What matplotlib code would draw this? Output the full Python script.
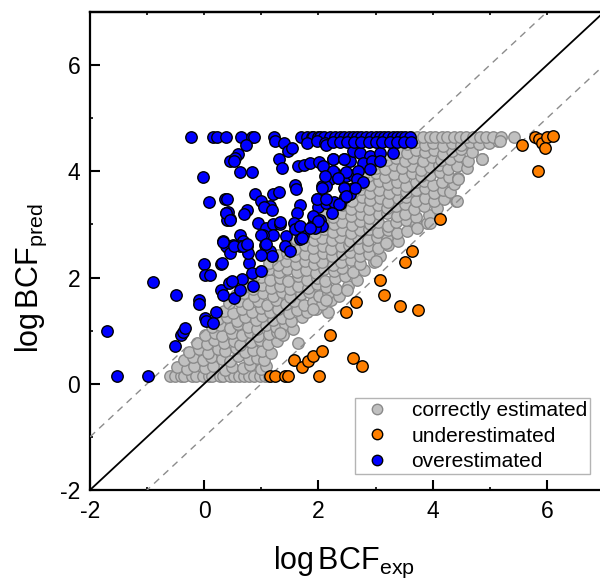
import matplotlib

matplotlib.use("Agg")
import matplotlib.pyplot as plt
import numpy as np
from matplotlib import font_manager
from matplotlib.lines import Line2D
from matplotlib.ticker import MultipleLocator

# ---- data (log units) ----
# correctly estimated: dense cloud, written row by row
gray_x = [
    [-0.60, -0.52, -0.41, -0.35, -0.22, -0.14, -0.03, 0.08, 0.14, 0.27, 0.33, 0.45, 0.52, 0.61,
     0.70, 0.79, 0.88, 0.97, 1.06, 1.14],
    [-0.47, -0.31, -0.18, 0.02, 0.15, 0.36, 0.49, 0.68, 0.80, 0.99, 1.08],
    [-0.36, -0.20, -0.02, 0.11, 0.31, 0.45, 0.60, 0.78, 0.92, 1.05],
    [-0.26, -0.10, 0.07, 0.24, 0.37, 0.55, 0.72, 0.86, 1.01, 1.17],
    [-0.13, 0.04, 0.17, 0.35, 0.52, 0.63, 0.82, 0.97, 1.12, 1.27],
    [0.01, 0.19, 0.31, 0.48, 0.66, 0.80, 0.95, 1.14, 1.28, 1.38],
    [0.13, 0.28, 0.45, 0.59, 0.77, 0.93, 1.08, 1.26, 1.41, 1.55],
    [0.24, 0.40, 0.57, 0.72, 0.90, 1.02, 1.20, 1.37, 1.52, 1.71],
    [0.35, 0.50, 0.67, 0.84, 0.99, 1.16, 1.30, 1.49, 1.63, 1.80, 1.95, 2.16],
    [0.44, 0.61, 0.76, 0.94, 1.10, 1.25, 1.43, 1.58, 1.74, 1.90, 2.06, 2.22],
    [0.56, 0.70, 0.87, 1.03, 1.20, 1.36, 1.51, 1.69, 1.83, 2.01, 2.17, 2.36],
    [0.70, 0.85, 1.01, 1.17, 1.33, 1.50, 1.64, 1.82, 1.97, 2.14, 2.31, 2.52],
    [0.86, 1.00, 1.16, 1.33, 1.47, 1.65, 1.80, 1.97, 2.12, 2.29, 2.46, 2.67],
    [1.00, 1.14, 1.31, 1.45, 1.63, 1.78, 1.95, 2.09, 2.27, 2.42, 2.60, 2.80],
    [1.14, 1.29, 1.44, 1.61, 1.76, 1.93, 2.07, 2.25, 2.40, 2.57, 2.73, 2.97],
    [1.29, 1.45, 1.59, 1.77, 1.92, 2.08, 2.23, 2.41, 2.55, 2.73, 2.89, 3.07],
    [1.45, 1.59, 1.76, 1.90, 2.08, 2.22, 2.40, 2.54, 2.71, 2.86, 3.04, 3.22],
    [1.61, 1.76, 1.92, 2.07, 2.24, 2.38, 2.56, 2.70, 2.87, 3.02, 3.20, 3.39],
    [1.80, 1.94, 2.10, 2.25, 2.42, 2.57, 2.73, 2.89, 3.05, 3.21, 3.38, 3.55],
    [1.96, 2.10, 2.27, 2.41, 2.58, 2.73, 2.90, 3.04, 3.22, 3.36, 3.54, 3.71, 3.90],
    [2.11, 2.26, 2.42, 2.57, 2.74, 2.88, 3.06, 3.20, 3.37, 3.52, 3.70, 3.94],
    [2.26, 2.41, 2.57, 2.72, 2.89, 3.04, 3.20, 3.36, 3.52, 3.68, 3.85, 4.07],
    [2.45, 2.59, 2.76, 2.90, 3.07, 3.22, 3.39, 3.53, 3.71, 3.86, 4.03, 4.20, 4.41],
    [2.60, 2.75, 2.91, 3.06, 3.23, 3.38, 3.54, 3.70, 3.86, 4.02, 4.18, 4.31],
    [2.75, 2.90, 3.06, 3.21, 3.38, 3.53, 3.70, 3.84, 4.01, 4.16, 4.37],
    [2.86, 3.01, 3.17, 3.32, 3.49, 3.64, 3.80, 3.96, 4.12, 4.28, 4.45],
    [3.01, 3.16, 3.32, 3.47, 3.64, 3.79, 3.95, 4.11, 4.27, 4.43, 4.60],
    [3.20, 3.35, 3.51, 3.66, 3.83, 3.98, 4.14, 4.30, 4.46, 4.62, 4.86],
    [3.40, 3.55, 3.71, 3.86, 4.03, 4.18, 4.34, 4.50, 4.69],
    [3.55, 3.70, 3.86, 4.01, 4.18, 4.33, 4.49, 4.65, 4.81, 4.99, 5.15],
    [3.62, 3.72, 3.83, 3.95, 4.04, 4.16, 4.25, 4.37, 4.47, 4.58, 4.70, 4.82, 4.93, 5.06, 5.19,
     5.42],
    [1.90, 2.14, 2.50, 3.00, 3.19, 3.95, 3.72, 4.42, 4.45, 4.86, 5.17, 1.65, 1.33],
]
gray_y = [
    [0.15] * 20,
    [0.31, 0.27, 0.34, 0.29, 0.33, 0.26, 0.32, 0.30, 0.35, 0.28, 0.33],
    [0.45, 0.50, 0.44, 0.51, 0.47, 0.42, 0.52, 0.46, 0.49, 0.44],
    [0.60, 0.65, 0.58, 0.66, 0.61, 0.67, 0.59, 0.64, 0.62, 0.58],
    [0.77, 0.74, 0.82, 0.76, 0.80, 0.73, 0.79, 0.83, 0.75, 0.80],
    [0.92, 0.96, 0.89, 0.95, 0.91, 0.97, 0.90, 0.94, 0.98, 0.91],
    [1.06, 1.11, 1.05, 1.12, 1.07, 1.03, 1.10, 1.06, 1.12, 1.04],
    [1.22, 1.26, 1.19, 1.25, 1.21, 1.27, 1.20, 1.24, 1.19, 1.26],
    [1.37, 1.34, 1.41, 1.36, 1.42, 1.35, 1.40, 1.33, 1.39, 1.35, 1.41, 1.36],
    [1.52, 1.56, 1.50, 1.55, 1.49, 1.57, 1.51, 1.55, 1.48, 1.54, 1.50, 1.57],
    [1.67, 1.71, 1.65, 1.70, 1.66, 1.72, 1.64, 1.69, 1.73, 1.66, 1.70, 1.65],
    [1.82, 1.79, 1.86, 1.81, 1.85, 1.78, 1.84, 1.80, 1.87, 1.82, 1.78, 1.84],
    [1.97, 2.01, 1.95, 2.00, 1.94, 2.02, 1.96, 2.00, 1.93, 1.99, 2.03, 1.96],
    [2.12, 2.16, 2.10, 2.17, 2.11, 2.15, 2.09, 2.16, 2.12, 2.18, 2.10, 2.14],
    [2.27, 2.24, 2.31, 2.26, 2.32, 2.25, 2.30, 2.23, 2.29, 2.33, 2.26, 2.30],
    [2.42, 2.46, 2.40, 2.45, 2.39, 2.47, 2.41, 2.44, 2.48, 2.40, 2.45, 2.41],
    [2.57, 2.54, 2.61, 2.56, 2.60, 2.53, 2.59, 2.62, 2.55, 2.60, 2.56, 2.61],
    [2.72, 2.76, 2.70, 2.75, 2.71, 2.77, 2.69, 2.74, 2.70, 2.76, 2.72, 2.69],
    [2.87, 2.84, 2.91, 2.86, 2.90, 2.83, 2.89, 2.92, 2.85, 2.90, 2.84, 2.88],
    [3.02, 3.06, 3.00, 3.05, 2.99, 3.07, 3.01, 3.05, 2.98, 3.04, 3.08, 3.00, 3.03],
    [3.17, 3.14, 3.21, 3.16, 3.20, 3.13, 3.19, 3.22, 3.15, 3.20, 3.14, 3.18],
    [3.32, 3.36, 3.30, 3.35, 3.29, 3.37, 3.31, 3.34, 3.38, 3.30, 3.35, 3.31],
    [3.47, 3.44, 3.51, 3.46, 3.50, 3.43, 3.49, 3.52, 3.45, 3.50, 3.44, 3.48, 3.45],
    [3.62, 3.66, 3.60, 3.65, 3.59, 3.67, 3.61, 3.64, 3.68, 3.60, 3.65, 3.61],
    [3.77, 3.74, 3.81, 3.76, 3.80, 3.73, 3.79, 3.82, 3.75, 3.80, 3.76],
    [3.92, 3.96, 3.90, 3.95, 3.89, 3.97, 3.91, 3.94, 3.98, 3.90, 3.88],
    [4.07, 4.04, 4.11, 4.06, 4.10, 4.03, 4.09, 4.12, 4.05, 4.10, 4.06],
    [4.22, 4.26, 4.20, 4.25, 4.19, 4.27, 4.21, 4.24, 4.28, 4.20, 4.23],
    [4.37, 4.34, 4.41, 4.36, 4.40, 4.33, 4.39, 4.42, 4.36],
    [4.51, 4.55, 4.49, 4.54, 4.48, 4.53, 4.50, 4.55, 4.51, 4.54, 4.57],
    [4.65] * 16,
    [1.40, 1.58, 1.77, 2.31, 2.65, 3.03, 2.94, 3.44, 3.85, 4.23, 4.57, 0.77, 0.96],
]

# underestimated
orange_x = [1.16, 1.24, 1.41, 1.47, 1.57, 1.72, 1.81, 1.90, 2.07, 2.01, 2.20, 2.48, 2.66, 2.61, 2.77,
            3.08, 3.14, 3.42, 3.75, 3.51, 3.63, 4.13, 5.57, 5.84, 5.79, 5.87, 5.92, 6.00, 6.10, 5.97]
orange_y = [0.14, 0.14, 0.14, 0.14, 0.44, 0.31, 0.42, 0.52, 0.61, 0.15, 0.92, 1.35, 1.54, 0.48, 0.33,
            1.96, 1.67, 1.47, 1.38, 2.29, 2.50, 3.11, 4.50, 4.00, 4.64, 4.60, 4.54, 4.64, 4.67, 4.43]

# overestimated
blue_top_x = [-0.23, 0.15, 0.23, 0.38, 0.64, 0.83, 0.87, 1.22, 1.69, 1.80, 1.88, 1.90, 2.00, 2.03,
              2.10, 2.20, 2.29, 2.38, 2.45, 2.53, 2.60, 2.67, 2.75, 2.83, 2.92, 3.00, 3.08, 3.15,
              3.22, 3.30, 3.38, 3.45, 3.52, 3.60]
blue_top_y = 4.65
blue_x = [
    -0.03, 0.09, 0.36, 0.38, 0.40, 0.32, 0.42, 0.45,
    -0.89, -0.49, -1.71, -1.52, -0.99, -0.51, -0.41, -0.38, -0.34, -0.10, -0.09, 0.01, 0.03,
    0.20, 0.16, 0.00, 0.01, 0.10, 0.30, 0.30, 0.33, 0.44,
    0.73, 1.24, 1.40, 1.80, 1.97, 2.12, 2.14, 1.47, 1.53, 0.60, 0.54, 0.52, 1.31, 1.37, 1.65,
    1.74, 1.85, 2.01, 2.25, 2.44, 2.55, 0.63, 0.83, 2.13, 2.29, 2.20, 2.35, 2.48, 2.60, 1.59,
    1.61, 2.06, 2.14, 2.46, 2.52, 2.60, 0.89, 1.20, 1.31, 1.00, 0.39, 1.15, 1.04, 1.18, 0.75,
    0.70, 0.41, 0.45, 1.68, 1.63, 1.97, 2.00, 2.13, 2.27, 2.38, 2.46, 2.55,
    0.95, 1.09, 1.21, 1.33, 1.44, 1.21, 1.03, 0.63, 0.68, 0.51, 0.75, 0.38, 1.06, 1.15, 1.41,
    1.50, 1.68, 1.73, 1.88, 1.92, 2.02, 2.06, 1.94, 1.57, 1.59,
    0.31, 0.78, 0.84, 0.67, 0.48, 0.52, 0.63, 0.86, 1.00, 1.19, 1.00, 0.63, 0.77, 0.45, 0.32,
    0.52, 0.68, 0.38, 0.46, 0.75, 1.00, 1.08, 1.33,
    2.61, 2.73, 2.90, 3.08, 3.31, 2.26, 2.44, 2.78, 2.93, 3.08, 2.08, 2.26, 2.49, 2.69, 2.90,
    2.11, 2.35, 2.67, 2.78, 2.64, 2.44, 2.06, 1.97, 2.14, 2.36, 2.49, 2.23, 1.91, 2.00, 1.68,
    1.85, 1.71,
    2.25, 2.38, 2.50, 2.62, 2.75, 2.88, 3.00, 3.12, 3.25, 3.38, 3.50, 3.62,
]
blue_y = [
    3.89, 3.42, 3.47, 3.21, 3.09, 2.68, 2.56, 4.19,
    1.91, 1.68, 0.99, 0.14, 0.15, 0.72, 0.91, 0.97, 1.05, 1.58, 1.51, 1.24, 1.18,
    1.36, 1.14, 2.26, 2.04, 2.04, 2.26, 1.77, 1.68, 1.90,
    4.49, 4.57, 4.53, 4.53, 4.57, 4.54, 4.49, 4.38, 4.43, 4.32, 4.26, 4.19, 4.23, 4.07, 4.10,
    4.11, 4.15, 4.18, 4.24, 4.24, 4.19, 3.99, 3.99, 3.94, 3.97, 3.85, 3.88, 3.91, 3.94, 3.75,
    3.66, 3.72, 3.72, 3.69, 3.63, 3.69, 3.57, 3.58, 3.61, 3.44, 3.47, 3.35, 3.33, 3.27, 3.27,
    3.19, 3.23, 3.11, 3.36, 3.22, 3.47, 3.33, 3.40, 3.42, 3.38, 3.52, 3.58,
    3.03, 2.94, 3.00, 3.00, 2.78, 2.81, 2.81, 2.81, 2.68, 2.62, 2.60, 2.59, 2.62, 2.50, 2.60,
    2.50, 2.72, 2.81, 2.97, 3.09, 3.09, 2.97, 2.94, 3.02, 2.91,
    2.28, 2.28, 2.08, 1.98, 1.93, 1.62, 1.77, 1.84, 2.12, 2.40, 2.42, 2.59, 2.47, 2.47, 2.67,
    2.59, 2.60, 3.22, 3.09, 2.64, 2.81, 2.64, 3.04,
    4.38, 4.35, 4.29, 4.35, 4.35, 4.23, 4.23, 4.16, 4.19, 4.19, 4.10, 4.00, 3.98, 4.00, 4.04,
    3.91, 3.88, 3.85, 3.79, 3.69, 3.69, 3.69, 3.47, 3.47, 3.38, 3.53, 3.22, 3.16, 3.06, 2.97,
    2.94, 2.75,
    4.55, 4.55, 4.55, 4.55, 4.55, 4.55, 4.55, 4.55, 4.55, 4.55, 4.55, 4.55,
]

legend_labels = ["correctly estimated", "underestimated", "overestimated"]
ticks = [-2, 0, 2, 4, 6]


def has_font(name):
    try:
        font_manager.findfont(name, fallback_to_default=False)
        return True
    except ValueError:
        return False


narrow = has_font("Liberation Sans Narrow")
label_font = "Liberation Sans Narrow" if narrow else "Liberation Sans"
label_size = 25 if narrow else 22
legend_size = 18 if narrow else 15

plt.rcParams["font.family"] = ["Liberation Sans", "DejaVu Sans"]
plt.rcParams["axes.unicode_minus"] = False
plt.rcParams["mathtext.fontset"] = "custom"
plt.rcParams["mathtext.rm"] = label_font
plt.rcParams["mathtext.it"] = label_font

gx = np.concatenate([np.array(r) for r in gray_x])
gy = np.concatenate([np.array(r) for r in gray_y])
bx = np.array(blue_top_x + blue_x)
by = np.concatenate([np.full(len(blue_top_x), blue_top_y), np.array(blue_y)])

fig = plt.figure(figsize=(6, 5.8), dpi=100)
ax = fig.add_axes([0.15, 0.1552, 0.8567, 0.8241])

ms = 68
ax.scatter(gx, gy, s=ms, facecolor="#c0c0c0", edgecolor="#8a8a8a", linewidth=1.0, zorder=2)
line = np.array([-2, 7])
ax.plot(line, line, color="black", lw=1.3, zorder=3)
ax.plot(line, line + 1, color="#8c8c8c", lw=1.0, ls=(0, (5, 4)), zorder=3)
ax.plot(line, line - 1, color="#8c8c8c", lw=1.0, ls=(0, (5, 4)), zorder=3)
ax.scatter(bx, by, s=ms, facecolor="#0000ff", edgecolor="black", linewidth=1.0, zorder=4)
ax.scatter(orange_x, orange_y, s=ms, facecolor="#ff8000", edgecolor="black", linewidth=1.0,
           zorder=5)

ax.set_xlim(-2, 7)
ax.set_ylim(-2, 7)
ax.xaxis.set_minor_locator(MultipleLocator(1))
ax.yaxis.set_minor_locator(MultipleLocator(1))
ax.set_xticks(ticks)
ax.set_yticks(ticks)
ax.tick_params(which="major", direction="in", length=7, width=1.5, labelsize=16.5, pad=7)
ax.tick_params(which="minor", direction="in", length=2.5, width=1.2)
for s in ax.spines.values():
    s.set_linewidth(1.6)

top = ax.secondary_xaxis("top")
top.set_xticks(np.arange(-2, 8))
top.tick_params(direction="in", length=2.5, width=1.2, labeltop=False)
top.spines["top"].set_linewidth(1.6)

fig.text(273 / 600, 1 - 569 / 580, r"$\mathrm{log\,BCF_{exp}}$", fontsize=label_size,
         ha="left", va="baseline")
fig.text(38 / 600, 1 - 353 / 580, r"$\mathrm{log\,BCF_{pred}}$", fontsize=label_size,
         ha="left", va="baseline", rotation=90, rotation_mode="anchor")

handles = [
    Line2D([], [], ls="none", marker="o", ms=7.5, mfc="#c0c0c0", mec="#8a8a8a", mew=1.0),
    Line2D([], [], ls="none", marker="o", ms=7.5, mfc="#ff8000", mec="black", mew=1.0),
    Line2D([], [], ls="none", marker="o", ms=7.5, mfc="#0000ff", mec="black", mew=1.0),
]
leg = fig.legend(handles, legend_labels, loc="lower right",
                 bbox_to_anchor=(590 / 600, 1 - 474 / 580), bbox_transform=fig.transFigure,
                 borderaxespad=0, fancybox=False, framealpha=1, edgecolor="#b4b4b4",
                 prop={"family": label_font, "size": legend_size},
                 labelspacing=0.3, handletextpad=0.75, borderpad=0.15, handlelength=1.8)
leg.get_frame().set_linewidth(1.0)

fig.savefig("out.png", dpi=100)
